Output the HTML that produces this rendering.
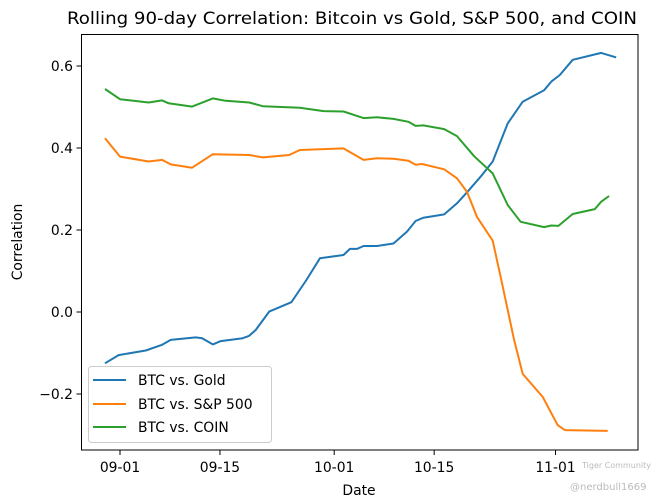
<!DOCTYPE html>
<html><head><meta charset="utf-8"><style>
html,body{margin:0;padding:0;background:#fff;}
svg{display:block;font-family:"DejaVu Sans","Liberation Sans",sans-serif;}
</style></head><body>
<svg id="chart" width="660" height="501" viewBox="0 0 660 501" xmlns="http://www.w3.org/2000/svg">
<rect width="660" height="501" fill="#fff"/>
<text x="352" y="24" font-size="16.7" text-anchor="middle" fill="#000" textLength="570" lengthAdjust="spacingAndGlyphs">Rolling 90-day Correlation: Bitcoin vs Gold, S&amp;P 500, and COIN</text>
<g id="series"></g>
<g id="axes"></g>
<rect x="81.5" y="34.5" width="556.5" height="415.5" fill="none" stroke="#000" stroke-width="1"/>
<text x="359" y="495" font-size="13.9" text-anchor="middle">Date</text>
<text x="22" y="242" font-size="13.9" text-anchor="middle" transform="rotate(-90 22 242)">Correlation</text>
<g>
<rect x="88.5" y="366.5" width="183" height="76" rx="3" fill="#fff" fill-opacity="0.8" stroke="#ccc"/>
<line x1="93" y1="380" x2="126" y2="380" stroke="#1f77b4" stroke-width="2"/>
<text x="138" y="385" font-size="13.9">BTC vs. Gold</text>
<line x1="93" y1="404" x2="126" y2="404" stroke="#ff7f0e" stroke-width="2"/>
<text x="138" y="409" font-size="13.9">BTC vs. S&amp;P 500</text>
<line x1="93" y1="427" x2="126" y2="427" stroke="#2ca02c" stroke-width="2"/>
<text x="138" y="432" font-size="13.9">BTC vs. COIN</text>
</g>
<text x="582" y="468" font-size="8" fill="#bbb">Tiger Community</text>
<text x="570" y="490" font-size="10" fill="#bbb">@nerdbull1669</text>
</svg>
<script>
const xTickLabels = ["09-01","09-15","10-01","10-15","11-01"];
const xTickDays = [0,14,30,44,61];
const yTicks = [-0.2,0.0,0.2,0.4,0.6];
const goldDays = [-2.1,-0.2,3.6,5.9,7.1,10.6,11.5,13.0,14.1,17.2,18.1,19.0,20.9,24.0,26.1,28.0,31.3,32.2,33.2,34.1,36.0,38.3,40.2,41.4,42.5,45.4,47.2,48.6,50.5,52.2,54.3,56.4,59.4,60.4,61.6,63.4,67.4,69.5];
const goldVals = [-0.125,-0.105,-0.094,-0.080,-0.068,-0.062,-0.064,-0.079,-0.071,-0.064,-0.058,-0.044,0.001,0.024,0.078,0.131,0.139,0.154,0.154,0.161,0.161,0.167,0.196,0.222,0.230,0.238,0.265,0.292,0.330,0.367,0.460,0.513,0.541,0.562,0.578,0.615,0.632,0.621];
const spDays = [-2.1,0,4.0,5.9,7.1,10.1,13.0,18.1,20,23.7,25.2,31.3,34.1,36,38.3,40.4,41.4,42.3,45.4,47.2,48.6,50.0,52.2,53.3,55.2,56.4,59.2,61.3,62.3,68.3];
const spVals = [0.424,0.379,0.367,0.371,0.360,0.352,0.385,0.383,0.377,0.383,0.395,0.399,0.371,0.375,0.374,0.369,0.359,0.361,0.348,0.326,0.293,0.232,0.174,0.086,-0.068,-0.151,-0.207,-0.276,-0.288,-0.290];
const coinDays = [-2.1,0,4.0,5.9,6.8,10.1,13.0,14.8,18.1,20,25.2,28.5,31.3,34.1,36.0,38.3,40.4,41.4,42.5,45.4,47.2,49.6,52.2,54.3,56.1,59.4,60.4,61.4,63.4,66.5,67.4,68.5];
const coinVals = [0.544,0.519,0.511,0.516,0.509,0.501,0.521,0.515,0.511,0.502,0.498,0.490,0.489,0.473,0.475,0.471,0.464,0.454,0.455,0.446,0.429,0.380,0.338,0.261,0.220,0.207,0.211,0.210,0.239,0.251,0.269,0.283];

const NS = "http://www.w3.org/2000/svg";
function xScale(d){ return 120 + 7.14 * d; }
function yScale(v){ return 312 - 410 * v; }
const axes = document.getElementById('axes');
const series = document.getElementById('series');
xTickDays.forEach((d,i)=>{
  const x = xScale(d);
  const t = document.createElementNS(NS,'line');
  t.setAttribute('x1',x);t.setAttribute('x2',x);t.setAttribute('y1',450);t.setAttribute('y2',455);
  t.setAttribute('stroke','#000');
  
  
  axes.appendChild(t);
  const l = document.createElementNS(NS,'text');
  l.setAttribute('x',x);l.setAttribute('y',472);l.setAttribute('font-size','13.9');l.setAttribute('text-anchor','middle');
  l.textContent = xTickLabels[i];
  
  
  axes.appendChild(l);
});
yTicks.forEach(v=>{
  const y = yScale(v);
  const t = document.createElementNS(NS,'line');
  t.setAttribute('x1',76.5);t.setAttribute('x2',81.5);t.setAttribute('y1',y);t.setAttribute('y2',y);
  t.setAttribute('stroke','#000');
  
  
  axes.appendChild(t);
  const l = document.createElementNS(NS,'text');
  l.setAttribute('x',73);l.setAttribute('y',y+5);l.setAttribute('font-size','13.9');l.setAttribute('text-anchor','end');
  l.textContent = v.toFixed(1).replace('-','\u2212');
  
  
  axes.appendChild(l);
});
function drawLine(days, vals, color, name){
  const p = document.createElementNS(NS,'polyline');
  p.setAttribute('points', days.map((d,i)=>xScale(d).toFixed(1)+','+yScale(vals[i]).toFixed(1)).join(' '));
  p.setAttribute('fill','none');p.setAttribute('stroke',color);p.setAttribute('stroke-width','2');
  p.setAttribute('stroke-linejoin','round');
  
  
  series.appendChild(p);
}
drawLine(goldDays, goldVals, '#1f77b4', 'btc-gold-line');
drawLine(spDays, spVals, '#ff7f0e', 'btc-sp500-line');
drawLine(coinDays, coinVals, '#2ca02c', 'btc-coin-line');
</script>
</body></html>
